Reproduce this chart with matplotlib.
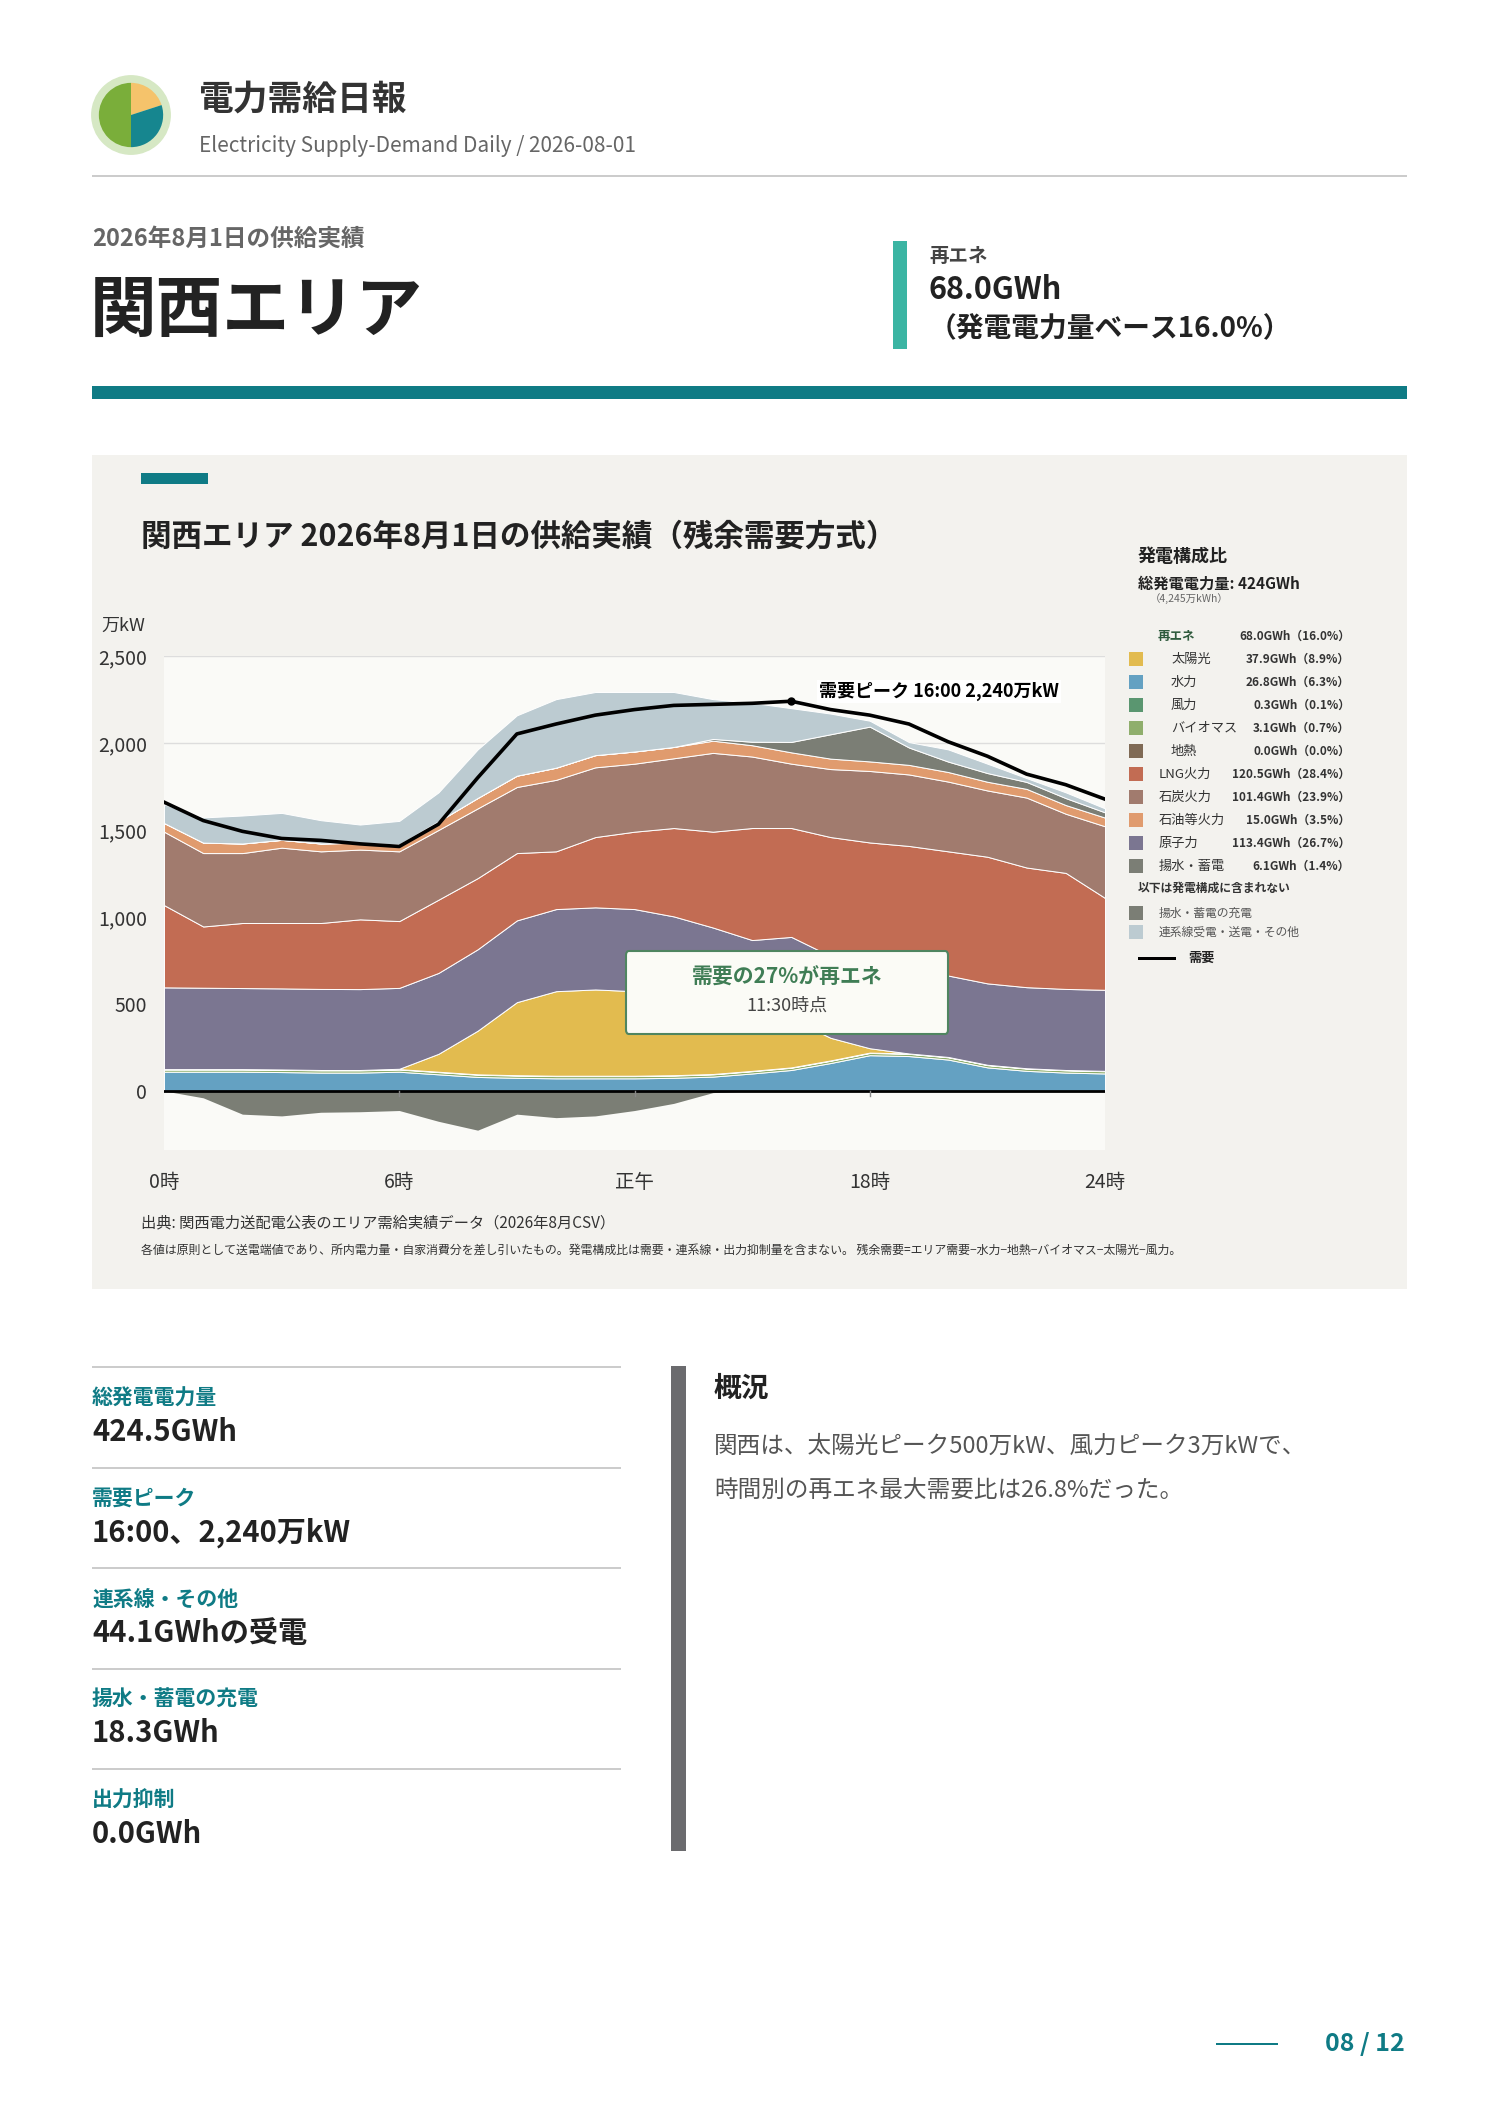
import matplotlib
matplotlib.use('Agg')
import matplotlib.pyplot as plt
import matplotlib.patches as mpatches
import numpy as np

plt.rcParams['font.family'] = ['Noto Sans CJK JP', 'DejaVu Sans']

W, H = 1488, 2105

# --- data (万kW, hourly 0..24) ---
hours = list(range(25))
hydro = [110, 110, 110, 108, 105, 105, 110, 95, 80, 75, 72, 72, 72, 75, 82, 100, 120, 160, 205, 200, 180, 135, 115, 105, 100]
bio = [13] * 25
wind = [2] * 25
geo = [0] * 25
solar = [0, 0, 0, 0, 0, 0, 2, 103, 251, 420, 486, 496, 486, 441, 372, 282, 280, 130, 25, 0, 0, 0, 0, 0, 0]
nuclear = [470, 468, 466, 466, 466, 465, 465, 465, 468, 470, 472, 472, 472, 472, 470, 470, 470, 470, 470, 470, 468, 468, 466, 466, 466]
lng = [473, 352, 374, 376, 379, 401, 384, 421, 409, 387, 332, 404, 445, 508, 551, 644, 626, 684, 713, 723, 714, 728, 688, 667, 528]
coal = [422, 422, 402, 433, 412, 401, 401, 401, 401, 380, 411, 401, 391, 401, 453, 411, 370, 391, 411, 411, 401, 381, 402, 340, 412]
oil = [50, 60, 55, 45, 45, 40, 40, 50, 60, 65, 70, 70, 70, 65, 70, 65, 65, 60, 55, 55, 55, 50, 50, 50, 50]
pumped_gen = [0] * 14 + [10, 20, 60, 140, 200, 100, 60, 50, 40, 40, 30]
imports = [108, 145, 161, 155, 134, 104, 135, 166, 279, 347, 394, 363, 342, 316, 229, 224, 194, 119, 34, 31, 70, 54, 22, 33, 23]
pumped_charge = [0, -40, -134, -144, -123, -120, -113, -175, -226, -134, -154, -144, -113, -72, -10, 0, 0, 0, 0, 0, 0, 0, 0, 0, 0]
demand = [1660, 1554, 1492, 1451, 1440, 1420, 1405, 1533, 1800, 2052, 2109, 2160, 2192, 2216, 2222, 2228, 2240, 2192, 2160, 2109, 2007, 1924, 1821, 1760, 1677]

layer_colors = ['#64a1c2', '#8fae6c', '#5a9670', '#7f6a55', '#e2bb4f', '#7b7691',
                '#c26c53', '#a17b6e', '#e09b6e', '#7b7e75', '#bccbd1']

legend_rows = [
    ('太陽光', '37.9GWh（8.9%）', '#e2bb4f', True),
    ('水力', '26.8GWh（6.3%）', '#64a1c2', True),
    ('風力', '0.3GWh（0.1%）', '#5a9670', True),
    ('バイオマス', '3.1GWh（0.7%）', '#8fae6c', True),
    ('地熱', '0.0GWh（0.0%）', '#7f6a55', True),
    ('LNG火力', '120.5GWh（28.4%）', '#c26c53', False),
    ('石炭火力', '101.4GWh（23.9%）', '#a17b6e', False),
    ('石油等火力', '15.0GWh（3.5%）', '#e09b6e', False),
    ('原子力', '113.4GWh（26.7%）', '#7b7691', False),
    ('揚水・蓄電', '6.1GWh（1.4%）', '#7b7e75', False),
]

stats = [('総発電電力量', '424.5GWh'), ('需要ピーク', '16:00、2,240万kW'),
         ('連系線・その他', '44.1GWhの受電'), ('揚水・蓄電の充電', '18.3GWh'), ('出力抑制', '0.0GWh')]

TEAL = '#0f7b85'
DARK = '#222222'


def T(x, y, s, **kw):
    kw.setdefault('va', 'center')
    return fig.text(x / W, 1 - y / H, s, **kw)


def R(x0, y0, x1, y1, color, zorder=0):
    fig.patches.append(mpatches.Rectangle((x0 / W, 1 - y1 / H), (x1 - x0) / W, (y1 - y0) / H,
                                          transform=fig.transFigure, facecolor=color, edgecolor='none',
                                          lw=0, zorder=zorder))


fig = plt.figure(figsize=(W / 100, H / 100), dpi=100, facecolor='white')

# header logo
lax = fig.add_axes([(131 - 40) / W, 1 - (115 + 40) / H, 80 / W, 80 / H])
lax.set_zorder(2)
lax.add_patch(mpatches.Circle((0, 0), 1.0, color='#d6e8c4'))
lax.pie([0.2, 0.3, 0.5], colors=['#f5c36b', '#16868f', '#7aae3a'], startangle=90, counterclock=False, radius=0.82)
lax.set_xlim(-1.02, 1.02)
lax.set_ylim(-1.02, 1.02)
lax.set_aspect('equal')
lax.axis('off')

T(199, 99, '電力需給日報', fontsize=25, fontweight='bold', color='#333333')
T(199, 146, 'Electricity Supply-Demand Daily / 2026-08-01', fontsize=15, color='#666666')
R(92, 175, 1407, 177, '#cccccc')

T(92, 239, '2026年8月1日の供給実績', fontsize=17, fontweight='bold', color='#666666')
T(90, 311, '関西エリア', fontsize=48, fontweight='bold', color=DARK)
R(893, 241, 907, 349, '#3bb5a3')
T(929, 256, '再エネ', fontsize=14, fontweight='bold', color='#444444')
T(929, 290, '68.0GWh', fontsize=22, fontweight='bold', color=DARK)
T(929, 329, '（発電電力量ベース16.0%）', fontsize=20, fontweight='bold', color=DARK)
R(92, 386, 1407, 399, TEAL)

# chart panel
R(92, 455, 1407, 1289, '#f3f2ee')
R(141, 473, 208, 484, TEAL)
T(141, 537, '関西エリア 2026年8月1日の供給実績（残余需要方式）', fontsize=22, fontweight='bold', color=DARK)

ax = fig.add_axes([164 / W, 1 - 1150 / H, (1105 - 164) / W, (1150 - 656) / H])
ax.set_zorder(2)
ax.set_facecolor('#fafaf7')
ax.stackplot(hours, hydro, bio, wind, geo, solar, nuclear, lng, coal, oil, pumped_gen, imports,
             colors=layer_colors, edgecolor='white', linewidth=0.7)
ax.fill_between(hours, pumped_charge, 0, color='#7b7e75', lw=0)
ax.axhline(0, color='black', lw=2)
for xt in [6, 12, 18]:
    ax.plot([xt, xt], [0, -30], color='#888888', lw=1)
ax.plot(hours, demand, color='black', lw=2.6, zorder=5)
ax.plot([16], [2240], 'o', color='black', ms=5, zorder=6)
ax.text(16.7, 2240, '需要ピーク 16:00 2,240万kW', fontsize=13, fontweight='bold', color='black',
        va='bottom', ha='left', bbox=dict(facecolor='white', edgecolor='none', pad=1.5), zorder=7)
ax.set_xlim(0, 24)
ax.set_ylim(-340, 2500)
ax.set_yticks([0, 500, 1000, 1500, 2000, 2500])
ax.set_yticklabels(['0', '500', '1,000', '1,500', '2,000', '2,500'], fontsize=14, color='#333333')
ax.yaxis.grid(True, color='#dddddd', lw=1)
ax.set_axisbelow(True)
ax.tick_params(axis='y', length=0, pad=12)
ax.set_xticks([0, 6, 12, 18, 24])
ax.set_xticklabels(['0時', '6時', '正午', '18時', '24時'], fontsize=14, color='#333333')
ax.tick_params(axis='x', length=0, pad=16)
for s in ax.spines.values():
    s.set_visible(False)
T(101, 626, '万kW', fontsize=13, color='#333333')

# annotation box
fig.patches.append(mpatches.FancyBboxPatch((626 / W, 1 - 1034 / H), 322 / W, 83 / H,
                                           boxstyle='round,pad=0,rounding_size=0.002', transform=fig.transFigure,
                                           facecolor='#fbfbf6', edgecolor='#4f8560', lw=1.5, zorder=10))
T(787, 977, '需要の27%が再エネ', fontsize=15, fontweight='bold', color='#3f7d55', ha='center', zorder=11)
T(787, 1006, '11:30時点', fontsize=13, color='#444444', ha='center', zorder=11)

# legend
T(1138, 557, '発電構成比', fontsize=13, fontweight='bold', color=DARK)
T(1138, 584, '総発電電力量: 424GWh', fontsize=11, fontweight='bold', color=DARK)
T(1150, 599, '（4,245万kWh）', fontsize=7.5, color='#666666')
T(1158, 636, '再エネ', fontsize=9, fontweight='bold', color='#2e5a3c')
T(1350, 636, '68.0GWh（16.0%）', fontsize=8.5, fontweight='bold', color='#333333', ha='right')
for i, (name, val, col, indent) in enumerate(legend_rows):
    y = 659 + i * 23
    R(1129, y - 7, 1143, y + 7, col)
    T(1171 if indent else 1159, y, name, fontsize=9.5, color='#333333')
    T(1350, y, val, fontsize=8.5, fontweight='bold', color='#333333', ha='right')
T(1138, 888, '以下は発電構成に含まれない', fontsize=8.5, fontweight='bold', color='#333333')
R(1129, 906, 1143, 920, '#7b7e75')
T(1159, 913, '揚水・蓄電の充電', fontsize=8.5, color='#555555')
R(1129, 925, 1143, 939, '#bccbd1')
T(1159, 932, '連系線受電・送電・その他', fontsize=8.5, color='#555555')
R(1138, 957, 1176, 960, 'black')
T(1188, 958, '需要', fontsize=9.5, fontweight='bold', color=DARK)

T(141, 1223, '出典: 関西電力送配電公表のエリア需給実績データ（2026年8月CSV）', fontsize=11, color='#333333')
T(141, 1250, '各値は原則として送電端値であり、所内電力量・自家消費分を差し引いたもの。発電構成比は需要・連系線・出力抑制量を含まない。 '
     '残余需要=エリア需要−水力−地熱−バイオマス−太陽光−風力。', fontsize=8.6, color='#333333')

# stats
for i, (lab, val) in enumerate(stats):
    y0 = 1366 + i * 100.5
    R(92, y0, 621, y0 + 2, '#cccccc')
    T(92, y0 + 32, lab, fontsize=15, fontweight='bold', color=TEAL)
    T(92, y0 + 66, val, fontsize=21, fontweight='bold', color=DARK)

R(671, 1366, 686, 1851, '#6b6b6e')
T(714, 1389, '概況', fontsize=20, fontweight='bold', color=DARK)
T(714, 1446, '関西は、太陽光ピーク500万kW、風力ピーク3万kWで、', fontsize=17, color='#555555')
T(714, 1491, '時間別の再エネ最大需要比は26.8%だった。', fontsize=17, color='#555555')

# footer
R(1216, 2043, 1278, 2045, TEAL)
T(1405, 2044, '08 / 12', fontsize=18, fontweight='bold', color=TEAL, ha='right')

fig.savefig('out.png', dpi=100, facecolor='white')
